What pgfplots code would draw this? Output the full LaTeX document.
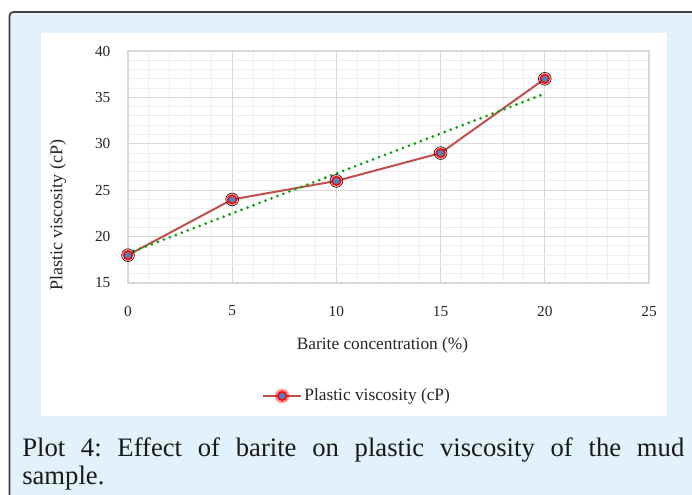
\documentclass[border=0pt]{standalone}
\usepackage{fontspec}
\setmainfont{Liberation Serif}
\usepackage{pgfplots}
\pgfplotsset{compat=1.18}
\definecolor{bgblue}{HTML}{E1F2FC}
\definecolor{framegray}{HTML}{404040}
\definecolor{gridmaj}{HTML}{D9D9D9}
\definecolor{gridmin}{HTML}{EFEFEF}
\definecolor{linered}{HTML}{C0504D}
\definecolor{markblue}{HTML}{4F81BD}
\definecolor{trendgreen}{HTML}{12A012}
\begin{document}
\frenchspacing
\begin{tikzpicture}
\clip (0pt,0pt) rectangle (519pt,371.25pt);
\fill[white] (0pt,0pt) rectangle (519pt,371.25pt);
\draw[fill=bgblue, draw=framegray, line width=1.3pt, rounded corners=3pt] (7.1pt,-20pt) rectangle (540pt,362.25pt);
\fill[white] (30.75pt,59.25pt) rectangle (500.25pt,346.5pt);
\begin{axis}[
  at={(96pt,159pt)}, anchor=south west,
  scale only axis, width=390.75pt, height=174pt,
  xmin=0, xmax=25, ymin=15, ymax=40,
  xtick={0,5,10,15,20,25}, ytick={15,20,25,30,35,40},
  minor x tick num=4, minor y tick num=4,
  grid=both,
  major grid style={draw=gridmaj, line width=0.8pt},
  minor grid style={draw=gridmin, line width=0.8pt},
  axis line style={draw=gridmaj, line width=0.8pt},
  major tick length=0pt, minor tick length=0pt,
  /pgf/number format/assume math mode=true,
  tick label style={font=\fontsize{11.5}{13}\selectfont, text=black!85},
  yticklabel style={anchor=east, inner sep=0pt, xshift=-13pt},
  xticklabel style={anchor=north, inner sep=0pt, yshift=-17pt},
  xlabel={Barite concentration (\%)},
  ylabel={Plastic viscosity (cP)},
  every axis x label/.style={at={(axis description cs:0.4885,-0.267)}, anchor=center,
    font=\fontsize{13}{15}\selectfont, text=black!85},
  every axis y label/.style={at={(axis description cs:-0.1344,0.293)}, rotate=90, anchor=center,
    font=\fontsize{13.5}{15}\selectfont, text=black!85},
  legend style={at={(axis description cs:0.4405,-0.487)}, anchor=center, draw=none, fill=none,
    font=\fontsize{13}{15}\selectfont, text=black!85,
    /tikz/every even column/.append style={column sep=0pt}},
  legend cell align=left,
  legend image code/.code={
    \draw[linered, line width=1.5pt] (0pt,0pt) -- (28pt,0pt);
    \fill[red, opacity=0.3] (14pt,0pt) circle (4.8pt);
    \draw[fill=markblue, draw=red, line width=1.1pt] (14pt,0pt) circle (3.2pt);
  },
]
\addplot[forget plot, only marks, mark=*, mark size=4.8pt, mark options={draw=none, fill=red, fill opacity=0.3}]
  coordinates {(0,18) (5,24) (10,26) (15,29) (20,37)};
\addplot[linered, line width=1.5pt, mark=*, mark size=3.2pt, mark options={draw=red, line width=1.1pt, fill=markblue}]
  coordinates {(0,18) (5,24) (10,26) (15,29) (20,37)};
\addlegendentry{Plastic viscosity (cP)}
\addplot[forget plot, trendgreen, line width=2.3pt, line cap=round, dash pattern=on 0pt off 4.8pt]
  coordinates {(0,18.2) (20,35.4)};
\end{axis}
\node[anchor=base west, text width=496.5pt, align=justify, inner sep=0pt,
  font=\fontsize{20}{20.5}\selectfont\frenchspacing, text=black!90] at (16.5pt,28.5pt)
  {Plot 4: Effect of barite on plastic viscosity of the mud\linebreak sample.};
\end{tikzpicture}
\end{document}
